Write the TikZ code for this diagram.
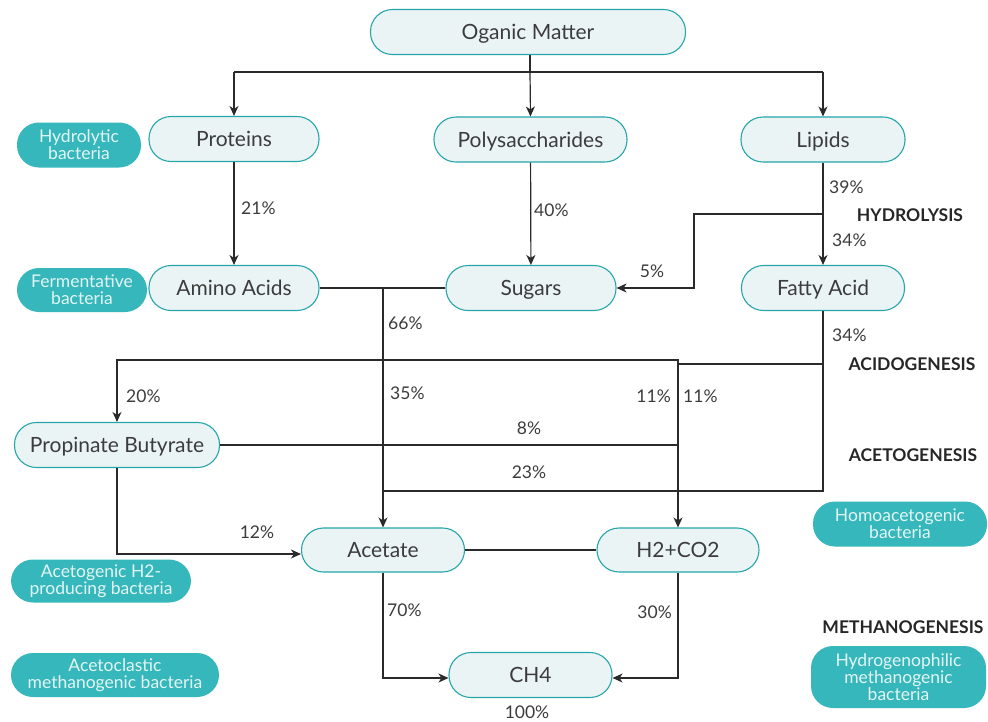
\documentclass[tikz,border=0pt]{standalone}
\usepackage{fontspec}
\setmainfont{Lato}
\usetikzlibrary{arrows.meta}
\definecolor{nodefill}{HTML}{EBF4F5}
\definecolor{nodeborder}{HTML}{26A6AA}
\definecolor{bact}{HTML}{35B7BB}
\definecolor{bacttext}{HTML}{E4F6F6}
\definecolor{txt}{HTML}{3C3C3C}
\definecolor{linec}{HTML}{2A2A2A}
\tikzset{
  box/.style={draw=nodeborder, line width=1.1pt, fill=nodefill, rounded corners=22pt,
    minimum height=45pt, inner sep=0pt, text=txt, text height=15.5pt, text depth=0pt,
    font=\fontsize{21}{23}\selectfont},
  bac/.style={fill=bact, rounded corners=22pt, minimum height=45pt, inner sep=0pt,
    text=bacttext, align=center, font=\fontsize{17.5}{17}\selectfont},
  pct/.style={text=txt, inner sep=0pt, font=\fontsize{17.5}{19}\selectfont},
  stage/.style={text=black!85, inner sep=0pt, font=\fontsize{17.5}{19}\selectfont\bfseries},
  ln/.style={draw=linec, line width=1.2pt},
  arr/.style={ln, -{Stealth[length=10pt,width=9pt,inset=3pt]}},
  darr/.style={ln, {Stealth[length=10pt,width=9pt,inset=3pt]}-{Stealth[length=10pt,width=9pt,inset=3pt]}}
}
\begin{document}
\begin{tikzpicture}[x=1pt,y=-1pt]
\useasboundingbox[fill=white] (0,0) rectangle (988,721);

% main nodes
\node[box, minimum width=315pt] (om) at (528,32) {Oganic Matter};
\node[box, minimum width=170pt] (prot) at (234,139) {Proteins};
\node[box, minimum width=193pt] (poly) at (530.5,139.5) {Polysaccharides};
\node[box, minimum width=164pt] (lip) at (823,139.5) {Lipids};
\node[box, minimum width=170pt] (amino) at (234,288) {Amino Acids};
\node[box, minimum width=170pt] (sug) at (531,288) {Sugars};
\node[box, minimum width=163pt] (fatty) at (823,288) {Fatty Acid};
\node[box, minimum width=205pt] (prop) at (117,445) {Propinate Butyrate};
\node[box, minimum width=163pt, minimum height=44pt] (acet) at (383,550) {Acetate};
\node[box, minimum width=162pt, minimum height=44pt] (h2) at (678,550) {H2+CO2};
\node[box, minimum width=163pt] (ch4) at (530.5,675) {CH4};

% bacteria
\node[bac, minimum width=124pt] (hyd) at (79,145) {Hydrolytic\\bacteria};
\node[bac, minimum width=130pt, minimum height=44pt] (ferm) at (82,290) {Fermentative\\bacteria};
\node[bac, minimum width=180pt, minimum height=43pt] (acetog) at (101,581) {Acetogenic H2-\\producing bacteria};
\node[bac, minimum width=208pt, minimum height=44pt] (acetoc) at (115,675) {Acetoclastic\\methanogenic bacteria};
\node[bac, minimum width=174pt] (homo) at (900,524) {Homoacetogenic\\bacteria};
\node[bac, minimum width=175pt, minimum height=62pt] (hydro) at (898.5,677) {Hydrogenophilic\\methanogenic\\bacteria};

% stage labels
\node[stage] (s1) at (910,215) {HYDROLYSIS};
\node[stage] (s2) at (912,364) {ACIDOGENESIS};
\node[stage] (s3) at (913,455) {ACETOGENESIS};
\node[stage] (s4) at (903,627) {METHANOGENESIS};

% junction coordinates
\coordinate (j0) at (530,72);
\coordinate (jl) at (234,72);
\coordinate (jr) at (823,72);
\coordinate (b1) at (823,214);
\coordinate (b2) at (694,214);
\coordinate (v1) at (383,288);
\coordinate (f364) at (823,364);
\coordinate (h364) at (678,364);
\coordinate (h360) at (678,360);
\coordinate (c491) at (383,491);

% connectors
\draw[ln] (j0 |- om.south) -- (j0);
\draw[ln] (jl) -- (jr);
\draw[arr] (jl) -- (prot.north);
\draw[arr] (j0) -- (poly.north);
\draw[arr] (jr) -- (lip.north);
\draw[arr] (prot) -- (amino);
\draw[arr] (poly) -- (sug);
\draw[arr] (lip) -- (fatty);
\draw[arr] (b1) -- (b2) |- (sug.east);
\draw[ln] (amino.east) -- (sug.west);
\draw[arr] (v1) -- (acet.north);
\draw[ln] (fatty.south) |- (c491);
\draw[ln] (f364) -- (h364);
\draw[darr] (prop.north) |- (h360) -- (h2.north);
\draw[ln] (prop.east) -- (prop.east -| h2.north);
\draw[arr] (prop.south) |- ([yshift=-4pt]acet.west);
\draw[ln] (acet.east) -- (h2.west);
\draw[arr] (acet.south) |- ([yshift=-3pt]ch4.west);
\draw[arr] (h2.south) |- ([yshift=-3pt]ch4.east);

% percentages
\node[pct, anchor=west] (p21) at (241,208) {21\%};
\node[pct, anchor=west] (p40) at (534,210) {40\%};
\node[pct, anchor=west] (p39) at (829,187) {39\%};
\node[pct, anchor=west] (p34a) at (832,240) {34\%};
\node[pct] (p5) at (652,271) {5\%};
\node[pct, anchor=west] (p66) at (388,323) {66\%};
\node[pct, anchor=west] (p34b) at (832,335) {34\%};
\node[pct, anchor=west] (p20) at (126,396) {20\%};
\node[pct, anchor=west] (p35) at (390,393) {35\%};
\node[pct, anchor=east] (p11a) at (671,396) {11\%};
\node[pct, anchor=west] (p11b) at (683,396) {11\%};
\node[pct] (p8) at (529,428) {8\%};
\node[pct] (p23) at (529,472) {23\%};
\node[pct] (p12) at (257,532) {12\%};
\node[pct, anchor=west] (p70) at (387,610) {70\%};
\node[pct, anchor=east] (p30) at (672,612) {30\%};
\node[pct] (p100) at (527,712) {100\%};
\end{tikzpicture}
\end{document}
